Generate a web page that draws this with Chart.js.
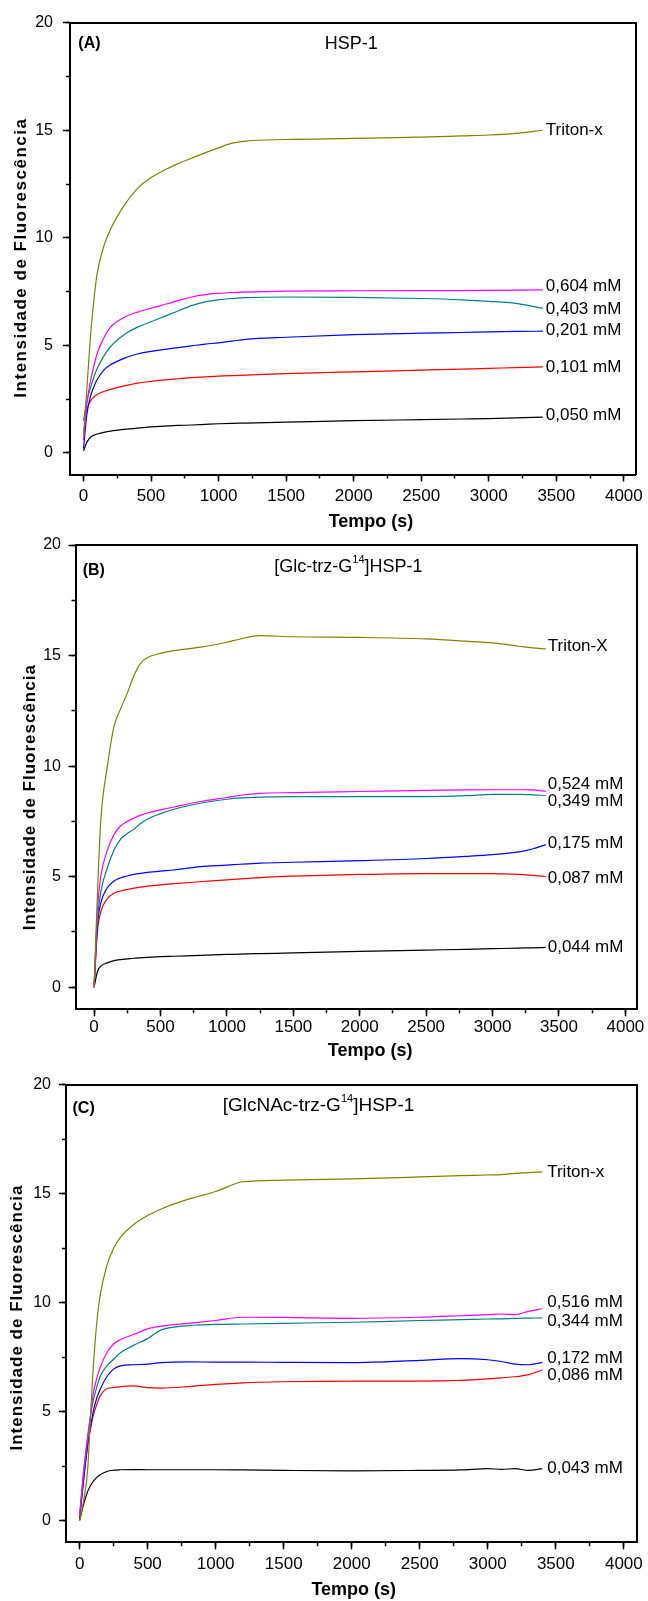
<!DOCTYPE html>
<html>
<head>
<meta charset="utf-8">
<script src="https://cdn.jsdelivr.net/npm/chart.js@4"></script>
<style>
  html, body { margin: 0; padding: 0; background: #fff; }
  #wrap { position: relative; width: 648px; height: 1601px; overflow: hidden; background: #fff; }
  #wrap canvas { position: absolute; left: 0; }
</style>
</head>
<body>
<div id="wrap">
  <canvas id="panelA" width="648" height="545" style="top:0px"></canvas>
  <canvas id="panelB" width="648" height="545" style="top:525px"></canvas>
  <canvas id="panelC" width="648" height="541" style="top:1060px"></canvas>
</div>
<script>
// ---------- Panel A: HSP-1 ----------
const timeA = [0, 25, 50, 75, 100, 150, 200, 300, 400, 500, 600, 700, 800, 900, 1000, 1100, 1200, 1500, 2000, 2500, 2800, 3000, 3200, 3400];
const tritonA = [0.8, 3.0, 5.3, 7.0, 8.3, 9.6, 10.4, 11.5, 12.3, 12.8, 13.15, 13.45, 13.7, 13.95, 14.18, 14.4, 14.5, 14.57, 14.62, 14.68, 14.74, 14.78, 14.86, 15.0];
const hsp0604 = [0.6, 2.3, 3.3, 4.0, 4.6, 5.35, 5.85, 6.3, 6.55, 6.73, 6.9, 7.08, 7.25, 7.36, 7.42, 7.46, 7.48, 7.52, 7.54, 7.55, 7.55, 7.56, 7.57, 7.58];
const hsp0403 = [1.5, 2.4, 3.0, 3.5, 3.9, 4.5, 4.95, 5.5, 5.85, 6.1, 6.35, 6.6, 6.85, 7.02, 7.12, 7.18, 7.22, 7.25, 7.23, 7.18, 7.12, 7.05, 6.95, 6.72];
const hsp0201 = [0.2, 1.8, 2.6, 3.05, 3.4, 3.85, 4.1, 4.4, 4.6, 4.72, 4.82, 4.9, 4.98, 5.06, 5.12, 5.2, 5.28, 5.38, 5.5, 5.57, 5.6, 5.63, 5.65, 5.66];
const hsp0101 = [0.9, 2.0, 2.4, 2.6, 2.72, 2.86, 2.96, 3.12, 3.25, 3.33, 3.4, 3.45, 3.5, 3.54, 3.57, 3.6, 3.62, 3.69, 3.77, 3.85, 3.9, 3.93, 3.97, 4.0];
const hsp0050 = [0.1, 0.5, 0.72, 0.82, 0.88, 0.96, 1.02, 1.1, 1.16, 1.21, 1.25, 1.28, 1.3, 1.33, 1.36, 1.38, 1.39, 1.43, 1.5, 1.55, 1.58, 1.6, 1.63, 1.67];
const namesA = ['Triton-x', '0,604 mM', '0,403 mM', '0,201 mM', '0,101 mM', '0,050 mM'];

// ---------- Panel B: [Glc-trz-G14]HSP-1 ----------
const timeB = [0, 25, 50, 100, 150, 200, 250, 300, 350, 400, 500, 600, 800, 1000, 1100, 1250, 1500, 2000, 2500, 2800, 3000, 3200, 3300, 3400];
const tritonB = [0, 4.2, 7.5, 10.0, 11.8, 12.6, 13.3, 14.1, 14.65, 14.9, 15.1, 15.22, 15.38, 15.6, 15.75, 15.9, 15.85, 15.82, 15.75, 15.65, 15.57, 15.42, 15.35, 15.3];
const glc0524 = [0, 3.5, 5.0, 6.2, 6.9, 7.3, 7.5, 7.65, 7.78, 7.88, 8.02, 8.15, 8.4, 8.58, 8.68, 8.77, 8.8, 8.85, 8.9, 8.92, 8.93, 8.93, 8.92, 8.86];
const glc0349 = [0, 3.0, 4.3, 5.4, 6.2, 6.7, 6.95, 7.15, 7.4, 7.6, 7.85, 8.05, 8.32, 8.5, 8.56, 8.6, 8.62, 8.62, 8.62, 8.66, 8.72, 8.72, 8.7, 8.67];
const glc0175 = [0, 2.8, 3.8, 4.5, 4.8, 4.95, 5.03, 5.1, 5.15, 5.19, 5.25, 5.3, 5.45, 5.52, 5.56, 5.61, 5.65, 5.72, 5.82, 5.92, 6.0, 6.12, 6.25, 6.45];
const glc0087 = [0, 2.5, 3.4, 4.0, 4.25, 4.35, 4.42, 4.48, 4.53, 4.57, 4.63, 4.68, 4.77, 4.85, 4.9, 4.96, 5.02, 5.1, 5.14, 5.14, 5.14, 5.1, 5.06, 5.0];
const glc0044 = [0, 0.7, 0.95, 1.1, 1.2, 1.25, 1.28, 1.31, 1.33, 1.35, 1.38, 1.4, 1.44, 1.48, 1.5, 1.52, 1.55, 1.62, 1.68, 1.71, 1.74, 1.77, 1.78, 1.8];
const namesB = ['Triton-X', '0,524 mM', '0,349 mM', '0,175 mM', '0,087 mM', '0,044 mM'];

// ---------- Panel C: [GlcNAc-trz-G14]HSP-1 ----------
const timeC = [0, 30, 60, 80, 100, 125, 150, 200, 250, 300, 400, 500, 600, 800, 1000, 1200, 1500, 2000, 2500, 2800, 3000, 3100, 3200, 3300, 3400];
const tritonC = [0, 0.9, 2.4, 4.8, 7.0, 9.0, 10.3, 11.7, 12.5, 13.0, 13.6, 14.0, 14.3, 14.75, 15.1, 15.55, 15.62, 15.68, 15.77, 15.83, 15.86, 15.88, 15.93, 15.97, 16.0];
const nac0516 = [0.2, 2.2, 3.8, 4.8, 5.8, 6.5, 7.0, 7.7, 8.1, 8.3, 8.55, 8.8, 8.92, 9.05, 9.18, 9.33, 9.32, 9.28, 9.33, 9.4, 9.45, 9.48, 9.45, 9.6, 9.72];
const nac0344 = [0.2, 2.3, 3.9, 4.8, 5.5, 6.1, 6.6, 7.1, 7.4, 7.7, 8.05, 8.35, 8.75, 8.95, 9.0, 9.02, 9.05, 9.1, 9.18, 9.22, 9.25, 9.26, 9.28, 9.29, 9.3];
const nac0172 = [0.1, 1.9, 3.5, 4.3, 5.0, 5.6, 6.0, 6.6, 6.95, 7.1, 7.15, 7.18, 7.25, 7.28, 7.27, 7.27, 7.26, 7.25, 7.35, 7.43, 7.38, 7.3, 7.18, 7.15, 7.26];
const nac0086 = [0.1, 1.9, 3.5, 4.2, 4.8, 5.3, 5.7, 6.05, 6.1, 6.15, 6.18, 6.1, 6.08, 6.15, 6.25, 6.32, 6.37, 6.4, 6.4, 6.43, 6.5, 6.55, 6.6, 6.7, 6.9];
const nac0043 = [0, 0.75, 1.35, 1.6, 1.8, 1.97, 2.1, 2.25, 2.31, 2.33, 2.34, 2.33, 2.33, 2.33, 2.33, 2.32, 2.3, 2.28, 2.3, 2.32, 2.38, 2.35, 2.38, 2.3, 2.38];
const namesC = ['Triton-x', '0,516 mM', '0,344 mM', '0,172 mM', '0,086 mM', '0,043 mM'];

// Shared axis ticks
const timeTicks = [0, 500, 1000, 1500, 2000, 2500, 3000, 3500, 4000];
const timeMinorTicks = [0, 250, 500, 750, 1000, 1250, 1500, 1750, 2000, 2250, 2500, 2750, 3000, 3250, 3500, 3750, 4000];
const intensityTicks = [0, 5, 10, 15, 20];
const intensityMinorTicks = [0, 2.5, 5, 7.5, 10, 12.5, 15, 17.5, 20];
const intensityMin = -1, intensityMax = 20;

// ---------- drawing ----------
Chart.defaults.font.family = "'Liberation Sans', Arial, Helvetica, sans-serif";
Chart.defaults.color = '#000';

const seriesColors = ['#808000', '#ff00ff', '#008080', '#0000ff', '#ff0000', '#000000'];

function points(time, vals) {
  return time.map((t, i) => ({ x: t, y: vals[i] }));
}

function fixedTicks(values) {
  return scale => { scale.ticks = values.map(v => ({ value: v })); };
}

function makePanel(canvasId, p) {
  const g = p.box;
  const datasets = p.series.map((vals, i) => ({
    label: p.names[i],
    data: points(p.time, vals),
    borderColor: seriesColors[i],
    borderWidth: 1.2,
    pointRadius: 0,
    fill: false,
    cubicInterpolationMode: 'monotone'
  }));

  // shifts / letter spacing for the axis titles
  const titleTweaks = {
    id: 'titleTweaks',
    beforeDraw(chart) {
      for (const id of ['x', 'y']) {
        const scale = chart.scales[id];
        if (!scale || scale.$tweaked) continue;
        const o = p.titleShift[id];
        const base = scale.drawTitle;
        scale.drawTitle = function () {
          const ctx = this.ctx;
          ctx.save();
          ctx.translate(o.dx || 0, o.dy || 0);
          if (o.spacing) ctx.letterSpacing = o.spacing;
          base.call(this);
          ctx.restore();
        };
        scale.$tweaked = true;
      }
    }
  };

  // end-of-curve labels, panel tag and heading
  const curveNotes = {
    id: 'curveNotes',
    afterDatasetsDraw(chart) {
      const { ctx, chartArea, scales: { x, y } } = chart;
      ctx.save();
      ctx.fillStyle = '#000';
      ctx.textBaseline = 'middle';
      ctx.textAlign = 'left';
      ctx.font = "17px 'Liberation Sans', Arial, sans-serif";
      chart.data.datasets.forEach((ds, i) => {
        const last = ds.data[ds.data.length - 1];
        ctx.fillText(ds.label,
          x.getPixelForValue(last.x) + p.labelGap,
          y.getPixelForValue(last.y + p.labelNudge[i]));
      });

      ctx.font = "bold 16px 'Liberation Sans', Arial, sans-serif";
      ctx.fillText(p.tag, chartArea.left + p.tagAt[0], chartArea.top + p.tagAt[1]);

      const headFont = p.headSize + "px 'Liberation Sans', Arial, sans-serif";
      const supFont = "11px 'Liberation Sans', Arial, sans-serif";
      const [pre, sup, post] = p.heading;
      ctx.font = headFont;
      const w1 = ctx.measureText(pre).width;
      const w3 = ctx.measureText(post).width;
      ctx.font = supFont;
      const w2 = sup ? ctx.measureText(sup).width : 0;
      const cx = x.getPixelForValue(p.headAt[0]);
      const cy = y.getPixelForValue(p.headAt[1]);
      let px = cx - (w1 + w2 + w3) / 2;
      ctx.font = headFont;
      ctx.fillText(pre, px, cy);
      px += w1;
      if (sup) {
        ctx.font = supFont;
        ctx.fillText(sup, px, cy - 7);
        px += w2;
      }
      ctx.font = headFont;
      ctx.fillText(post, px, cy);
      ctx.restore();
    }
  };

  const frameOnly = pos => ({
    type: 'linear', position: pos,
    min: pos === 'top' ? p.xMin : intensityMin,
    max: pos === 'top' ? p.xMax : intensityMax,
    ticks: { display: false },
    grid: { display: true, drawOnChartArea: false, drawTicks: false },
    border: { display: true, color: '#000', width: 2 },
    afterFit: s => { if (pos === 'top') s.height = 0; else s.width = 0; }
  });

  new Chart(document.getElementById(canvasId), {
    type: 'line',
    data: { datasets },
    options: {
      responsive: false,
      animation: false,
      devicePixelRatio: 1,
      events: [],
      layout: { padding: { left: 0, top: g.top, right: 648 - g.right, bottom: 0 } },
      plugins: { legend: { display: false }, tooltip: { enabled: false } },
      scales: {
        x: {
          type: 'linear', position: 'bottom', weight: 2,
          min: p.xMin, max: p.xMax,
          afterBuildTicks: fixedTicks(timeTicks),
          ticks: { autoSkip: false, maxRotation: 0, font: { size: 17 }, color: '#000',
                   padding: p.xTickPad, callback: v => String(v) },
          grid: { display: true, drawOnChartArea: false, drawTicks: true, tickLength: 7,
                  tickWidth: 1.5, tickColor: '#000' },
          border: { display: true, color: '#000', width: 2 },
          title: { display: true, text: 'Tempo (s)', color: '#000',
                   font: { size: 18, weight: 'bold' }, padding: { top: 0, bottom: p.xTitlePad } },
          afterFit: s => { s.height = p.canvasH - g.bottom; }
        },
        xMinor: {
          type: 'linear', position: 'bottom', weight: 0,
          min: p.xMin, max: p.xMax,
          afterBuildTicks: fixedTicks(timeMinorTicks),
          ticks: { display: false, autoSkip: false },
          grid: { display: true, drawOnChartArea: false, drawTicks: true, tickLength: 4,
                  tickWidth: 1.5, tickColor: '#000' },
          border: { display: false },
          afterFit: s => { s.height = 0; }
        },
        xTop: frameOnly('top'),
        y: {
          type: 'linear', position: 'left', weight: 2,
          min: intensityMin, max: intensityMax,
          afterBuildTicks: fixedTicks(intensityTicks),
          ticks: { font: { size: 16 }, color: '#000', padding: p.yTickPad, callback: v => String(v) },
          grid: { display: true, drawOnChartArea: false, drawTicks: true, tickLength: 7,
                  tickWidth: 1.5, tickColor: '#000' },
          border: { display: true, color: '#000', width: 2 },
          title: { display: true, text: 'Intensidade de Fluorescência', color: '#000',
                   font: { size: 17, weight: 'bold' }, padding: { top: p.yTitlePad, bottom: 0 } },
          afterFit: s => { s.width = g.left; }
        },
        yMinor: {
          type: 'linear', position: 'left', weight: 0,
          min: intensityMin, max: intensityMax,
          afterBuildTicks: fixedTicks(intensityMinorTicks),
          ticks: { display: false },
          grid: { display: true, drawOnChartArea: false, drawTicks: true, tickLength: 4,
                  tickWidth: 1.5, tickColor: '#000' },
          border: { display: false },
          afterFit: s => { s.width = 0; }
        },
        yRight: frameOnly('right')
      }
    },
    plugins: [titleTweaks, curveNotes]
  });
}

makePanel('panelA', {
  time: timeA,
  series: [tritonA, hsp0604, hsp0403, hsp0201, hsp0101, hsp0050],
  names: namesA,
  labelNudge: [0, 0.19, -0.03, 0.03, 0, 0.06],
  labelGap: 3,
  xMin: -100, xMax: 4090,
  canvasH: 545,
  box: { left: 70, top: 22.7, right: 636.7, bottom: 474.5 },
  xTickPad: 5,
  yTickPad: 10,
  yTitlePad: 11.5,
  xTitlePad: 12.2,
  titleShift: { x: { dx: 18 }, y: { dy: 9, spacing: '1.5px' } },
  tag: '(A)', tagAt: [8.3, 20.6],
  heading: ['HSP-1', '', ''], headSize: 18, headAt: [1982, 19.03]
});

makePanel('panelB', {
  time: timeB,
  series: [tritonB, glc0524, glc0349, glc0175, glc0087, glc0044],
  names: namesB,
  labelNudge: [0.1, 0.32, -0.26, 0.05, -0.07, 0],
  labelGap: 2,
  xMin: -140, xMax: 4085,
  canvasH: 545,
  box: { left: 75.5, top: 20, right: 636.7, bottom: 484.3 },
  xTickPad: 1,
  yTickPad: 7.5,
  yTitlePad: 19.8,
  xTitlePad: 8.5,
  titleShift: { x: { dx: 14 }, y: { dy: 20, spacing: '1px' } },
  tag: '(B)', tagAt: [7.2, 25.8],
  heading: ['[Glc-trz-G', '14', ']HSP-1'], headSize: 18, headAt: [1915, 19.0]
});

makePanel('panelC', {
  time: timeC,
  series: [tritonC, nac0516, nac0344, nac0172, nac0086, nac0043],
  names: namesC,
  labelNudge: [0, 0.28, -0.15, 0.18, -0.25, 0],
  labelGap: 5,
  xMin: -100, xMax: 4100,
  canvasH: 541,
  box: { left: 66, top: 24.8, right: 642.3, bottom: 482.3 },
  xTickPad: 5,
  yTickPad: 8,
  yTitlePad: 7.6,
  xTitlePad: 0.6,
  titleShift: { x: { dx: 2 }, y: { dy: 4, spacing: '1px' } },
  tag: '(C)', tagAt: [6.5, 23.8],
  heading: ['[GlcNAc-trz-G', '14', ']HSP-1'], headSize: 19, headAt: [1756, 19.05]
});
</script>
</body>
</html>
